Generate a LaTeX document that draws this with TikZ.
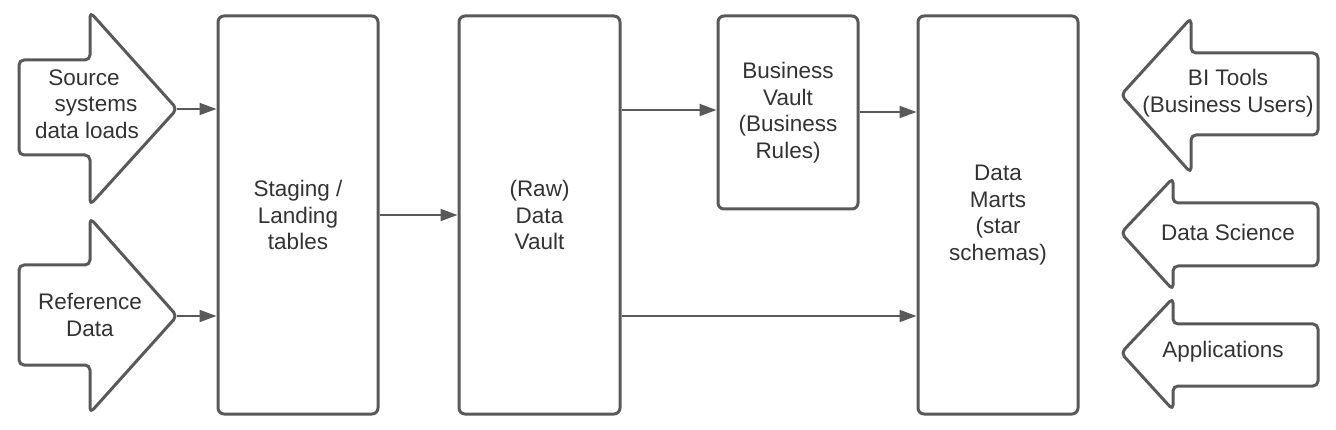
\documentclass[tikz,border=0pt]{standalone}
\usepackage{fontspec}
\setmainfont{Liberation Sans}
\usetikzlibrary{arrows.meta}
\definecolor{linegray}{HTML}{595959}
\definecolor{textgray}{HTML}{333333}
\tikzset{
  box/.style={draw=linegray, line width=3pt, rounded corners=6pt, fill=white,
    align=center, text=textgray, font=\fontsize{22.5}{26.5}\selectfont, inner sep=0pt},
  bigarrow/.style={draw=linegray, line width=3pt, rounded corners=5pt, line join=round},
  lbl/.style={align=center, text=textgray, font=\fontsize{22.5}{26.5}\selectfont, inner sep=0pt},
  conn/.style={draw=linegray, line width=2pt, -{Triangle[length=17pt,width=12pt]}},
}
\begin{document}
\begin{tikzpicture}[x=1pt,y=-1pt]
\useasboundingbox (0,0) rectangle (1336,430);

% left input arrows
\draw[bigarrow] (19,60) -- (90,60) -- (90,12) -- (177,109) -- (90,205) -- (90,155) -- (19,155) -- cycle;
\coordinate (srctip) at (177,109);
\node[lbl] (src) at (87,104) {Source\hspace*{6pt}\\\hspace*{18pt}systems\\data loads};

\draw[bigarrow] (19,265) -- (90,265) -- (90,218) -- (177,316) -- (90,413) -- (90,365) -- (19,365) -- cycle;
\coordinate (reftip) at (177,316);
\node[lbl] (ref) at (90,315) {Reference\\Data};

% main boxes
\node[box, minimum width=160pt, minimum height=398pt] (stg) at (298,215) {Staging /\\Landing\\tables};
\node[box, minimum width=161pt, minimum height=398pt] (raw) at (539.5,215) {(Raw)\\Data\\Vault};
\node[box, minimum width=140pt, minimum height=193pt] (bv) at (788,112.5) {Business\\Vault\\(Business\\Rules)};
\node[box, minimum width=160pt, minimum height=398pt] (dm) at (998,215) {Data\\Marts\\(star\\schemas)};

% right consumer arrows
\draw[bigarrow] (1318,53) -- (1191,53) -- (1191,18) -- (1121,95) -- (1191,173) -- (1191,135) -- (1318,135) -- cycle;
\node[lbl] (bi) at (1228,93) {BI Tools\\(Business Users)};

\draw[bigarrow] (1318,203) -- (1173,203) -- (1173,178) -- (1121,233) -- (1173,290) -- (1173,266) -- (1318,266) -- cycle;
\node[lbl] (ds) at (1228,232) {Data Science};

\draw[bigarrow] (1318,324) -- (1173,324) -- (1173,298) -- (1121,353) -- (1173,410) -- (1173,386) -- (1318,386) -- cycle;
\node[lbl] (app) at (1223,352) {Applications};

% connectors
\draw[conn] (srctip) -- (stg.west |- srctip);
\draw[conn] (reftip) -- (stg.west |- reftip);
\draw[conn] (stg.east) -- (raw.west);
\coordinate (rbv) at (raw.east |- 0,110);
\draw[conn] (rbv) -- (bv.west |- rbv);
\coordinate (bvo) at (bv.east |- 0,112);
\draw[conn] (bvo) -- (dm.west |- bvo);
\coordinate (rdm) at (raw.east |- reftip);
\draw[conn] (rdm) -- (dm.west |- rdm);
\end{tikzpicture}
\end{document}
